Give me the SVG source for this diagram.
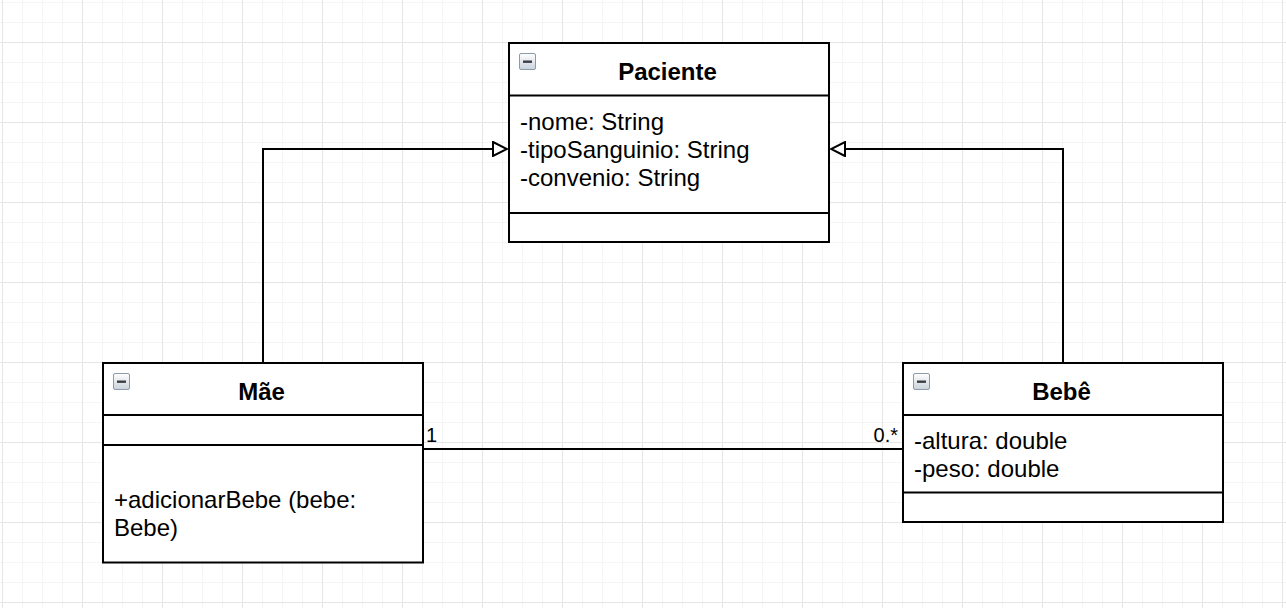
<svg xmlns="http://www.w3.org/2000/svg" width="1286" height="608" viewBox="0 0 1286 608">
<style>
.box{fill:#ffffff;stroke:#000000;stroke-width:2}
.div{stroke:#000000;stroke-width:2}
.title{font-family:"Liberation Sans",Arial,Helvetica,sans-serif;font-size:24px;font-weight:bold;fill:#000000;text-anchor:middle}
.txt{font-family:"Liberation Sans",Arial,Helvetica,sans-serif;font-size:24px;fill:#000000}
.lbl{font-family:"Liberation Sans",Arial,Helvetica,sans-serif;font-size:20px;fill:#000000}
.edge{fill:none;stroke:#000000;stroke-width:2}
</style>
<defs>
<pattern id="grid" x="2" y="42" width="80" height="80" patternUnits="userSpaceOnUse">
<rect x="20" y="0" width="1" height="80" fill="#f5f5f5"/>
<rect x="40" y="0" width="1" height="80" fill="#f5f5f5"/>
<rect x="60" y="0" width="1" height="80" fill="#f5f5f5"/>
<rect x="0" y="20" width="80" height="1" fill="#f5f5f5"/>
<rect x="0" y="40" width="80" height="1" fill="#f5f5f5"/>
<rect x="0" y="60" width="80" height="1" fill="#f5f5f5"/>
<rect x="0" y="0" width="1" height="80" fill="#e6e6e6"/>
<rect x="0" y="0" width="80" height="1" fill="#e6e6e6"/>
</pattern>
<linearGradient id="icg" x1="0" y1="0" x2="0" y2="1">
<stop offset="0" stop-color="#ffffff"/>
<stop offset="1" stop-color="#c9d2dc"/>
</linearGradient>
<symbol id="icon" viewBox="0 0 17 17">
<rect x="0.5" y="0.5" width="16" height="16" rx="1.5" fill="url(#icg)" stroke="#8d9aa8" stroke-width="1"/>
<rect x="4" y="7.5" width="9" height="2.4" fill="#3a3f45"/>
</symbol>
<marker id="tri" viewBox="0 0 16 16" refX="15" refY="8" markerWidth="16" markerHeight="16" markerUnits="userSpaceOnUse" orient="auto">
<path d="M1,1 L15,8 L1,15 Z" fill="#ffffff" stroke="#000000" stroke-width="2"/>
</marker>
</defs>
<rect x="0" y="0" width="1286" height="608" fill="#ffffff"/>
<rect x="0" y="0" width="1286" height="608" fill="url(#grid)"/>

<g id="connectors">
<path class="edge" d="M263,363 L263,149 L507,149" marker-end="url(#tri)"/>
<path class="edge" d="M1063,363 L1063,149 L831,149" marker-end="url(#tri)"/>
<path class="edge" d="M423,449 L903,449"/>
<text class="lbl" x="426" y="442">1</text>
<text class="lbl" x="898" y="442" text-anchor="end">0.*</text>
</g>

<g id="paciente">
<rect class="box" x="509" y="43" width="320" height="199"/>
<line class="div" x1="509" y1="95.5" x2="829" y2="95.5"/>
<line class="div" x1="509" y1="213" x2="829" y2="213"/>
<use href="#icon" x="519" y="53" width="17" height="17"/>
<text class="title" x="667.5" y="80">Paciente</text>
<text class="txt" x="520" y="130">-nome: String</text>
<text class="txt" x="520" y="158">-tipoSanguinio: String</text>
<text class="txt" x="520" y="186">-convenio: String</text>
</g>

<g id="mae">
<rect class="box" x="103" y="363" width="320" height="199.5"/>
<line class="div" x1="103" y1="415" x2="423" y2="415"/>
<line class="div" x1="103" y1="445" x2="423" y2="445"/>
<use href="#icon" x="113" y="373" width="17" height="17"/>
<text class="title" x="261.5" y="400">Mãe</text>
<text class="txt" x="114" y="508">+adicionarBebe (bebe:</text>
<text class="txt" x="114" y="536">Bebe)</text>
</g>

<g id="bebe">
<rect class="box" x="903" y="363" width="320" height="159"/>
<line class="div" x1="903" y1="415" x2="1223" y2="415"/>
<line class="div" x1="903" y1="492.5" x2="1223" y2="492.5"/>
<use href="#icon" x="913" y="373" width="17" height="17"/>
<text class="title" x="1061.5" y="400">Bebê</text>
<text class="txt" x="914" y="449">-altura: double</text>
<text class="txt" x="914" y="477">-peso: double</text>
</g>
</svg>
